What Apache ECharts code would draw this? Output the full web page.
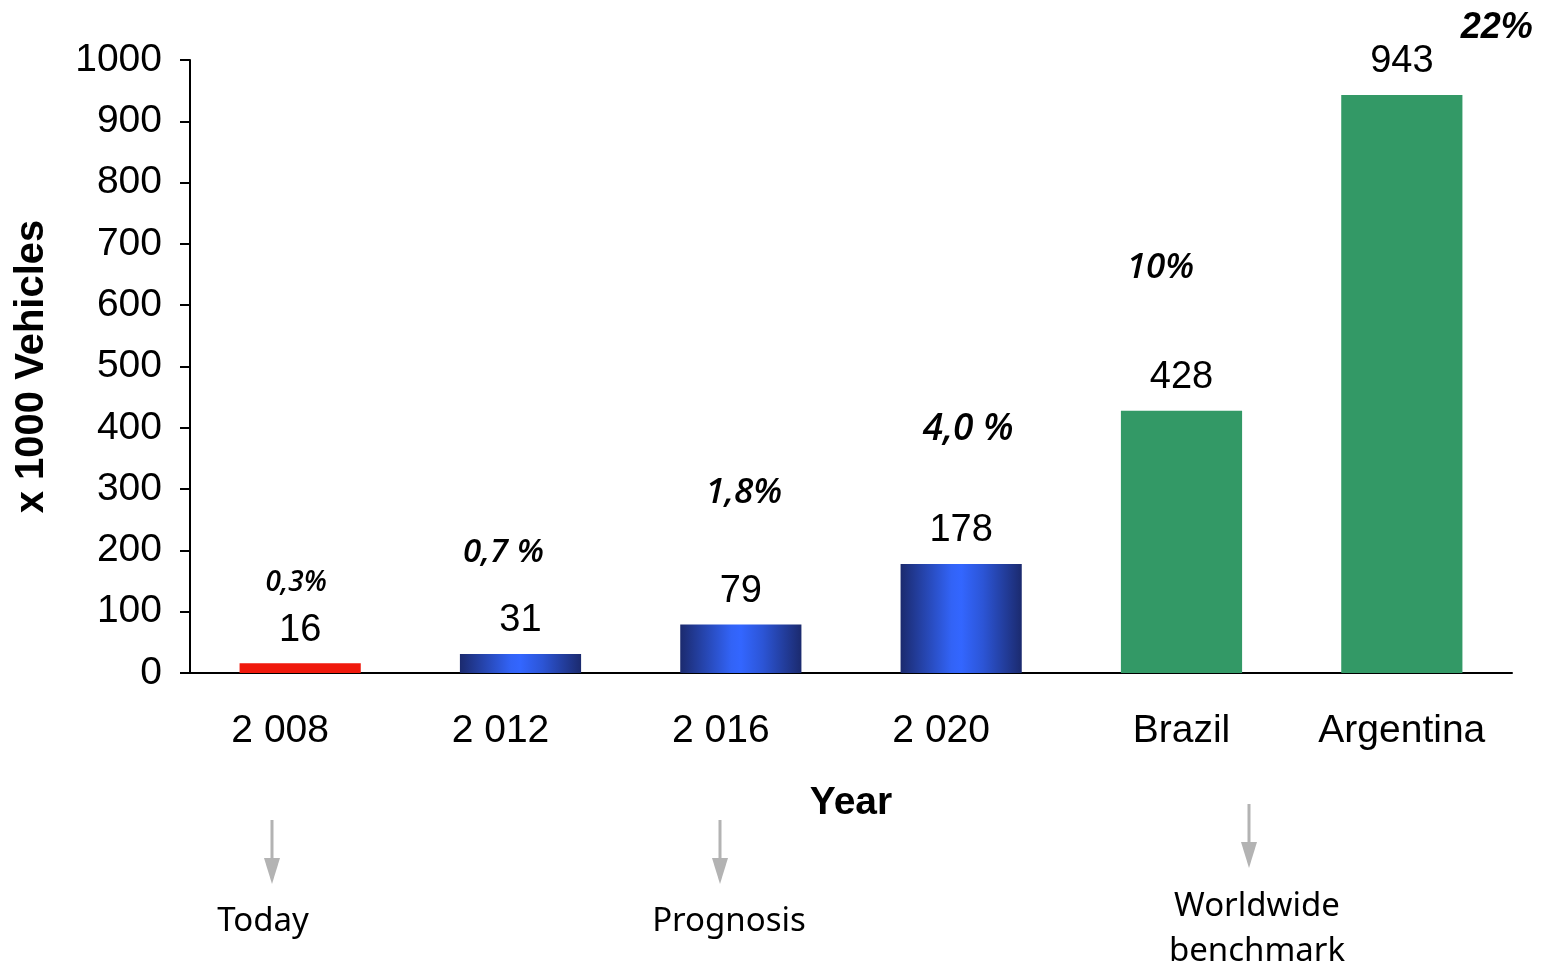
<!DOCTYPE html>
<html>
<head>
<meta charset="utf-8">
<script src="https://cdn.jsdelivr.net/npm/echarts@6/dist/echarts.min.js"></script>
<style>
  html, body { margin: 0; padding: 0; background: #fff; }
  #chart { width: 1544px; height: 967px; }
</style>
</head>
<body>
<div id="chart"></div>
<script>
// values
const categories = ["2 008", "2 012", "2 016", "2 020", "Brazil", "Argentina"];
const vehicles = [16, 31, 79, 178, 428, 943];
const shares = ["0,3%", "0,7 %", "1,8%", "4,0 %", "10%", "22%"];
const notes = ["Today", "Prognosis", "Worldwide\nbenchmark"];

let myChart = echarts.init(document.getElementById("chart"));

const blue = new echarts.graphic.LinearGradient(0, 0, 1, 0, [
  { offset: 0, color: "#1b2a6e" },
  { offset: 0.42, color: "#3263f6" },
  { offset: 0.5, color: "#3366ff" },
  { offset: 0.68, color: "#2c55d6" },
  { offset: 1, color: "#1b2a6e" },
]);
function barColor(i) {
  if (i === 0) return "#f0190c";
  if (i >= 4) return "#339966";
  return blue;
}

const font = "Liberation Sans, Arial, sans-serif";

var options = {
  animation: false,
  grid: { left: 190, right: 32, top: 60, bottom: 294 },
  xAxis: {
    type: "category",
    data: categories.map((c, i) => ({
      value: c,
      // the year labels sit a bit left of their bars
      textStyle: i < 4 ? { padding: [0, 40, 0, 0] } : {},
    })),
    name: "Year",
    nameLocation: "middle",
    nameGap: 111,
    nameTextStyle: { fontFamily: font, fontWeight: "bold", fontSize: 39, color: "#000" },
    axisLine: { lineStyle: { color: "#000", width: 2 } },
    axisTick: { show: false },
    axisLabel: { fontFamily: font, fontSize: 39, color: "#000", margin: 39 },
  },
  yAxis: {
    type: "value",
    min: 0,
    max: 1000,
    interval: 100,
    name: "x 1000 Vehicles",
    nameLocation: "middle",
    nameGap: 138,
    nameRotate: 90,
    nameTextStyle: { fontFamily: font, fontWeight: "bold", fontSize: 40, color: "#000" },
    axisLine: { show: true, lineStyle: { color: "#000", width: 2 } },
    axisTick: { show: true, length: 10, lineStyle: { color: "#000", width: 2 } },
    axisLabel: {
      fontFamily: font,
      fontSize: 39,
      color: "#000",
      margin: 28,
      formatter: (v) => String(v),
    },
    splitLine: { show: false },
  },
  series: [
    {
      type: "bar",
      barWidth: "55%",
      data: vehicles.map((v, i) => ({ value: v, itemStyle: { color: barColor(i) } })),
      label: {
        show: true,
        position: "top",
        distance: 14,
        fontFamily: font,
        fontSize: 38,
        color: "#000",
      },
    },
  ],
};
myChart.setOption(options);

// share annotations placed relative to the top of each bar
const shareOffsets = [[-4, -80], [-17, -101], [3, -132], [7, -134], [-21, -143], [95, -67]];
const shareSizes = [28, 33, 35, 37, 35, 36];
const graphics = shares.map((s, i) => {
  const p = myChart.convertToPixel({ seriesIndex: 0 }, [i, vehicles[i]]);
  return {
    type: "text",
    x: p[0] + shareOffsets[i][0],
    y: p[1] + shareOffsets[i][1],
    style: {
      text: s,
      fontFamily: i === 5 ? font : "Open Sans, sans-serif",
      fontStyle: "italic",
      fontWeight: i === 5 ? "bold" : 600,
      fontSize: shareSizes[i],
      fill: "#000",
      align: "center",
      verticalAlign: "middle",
    },
  };
});

// arrows and notes under the axis
const arrowX = [272, 720, 1249];
const arrowTop = [820, 820, 804];
const noteY = [922, 922, 929];
notes.forEach((n, i) => {
  graphics.push({
    type: "line",
    shape: { x1: arrowX[i], y1: arrowTop[i], x2: arrowX[i], y2: arrowTop[i] + 42 },
    style: { stroke: "#b3b3b3", lineWidth: 3 },
  });
  graphics.push({
    type: "polygon",
    shape: {
      points: [
        [arrowX[i] - 8, arrowTop[i] + 38],
        [arrowX[i] + 8, arrowTop[i] + 38],
        [arrowX[i], arrowTop[i] + 64],
      ],
    },
    style: { fill: "#b3b3b3" },
  });
  graphics.push({
    type: "text",
    x: [263, 729, 1257][i],
    y: noteY[i],
    style: {
      text: n,
      fontFamily: "Noto Sans, sans-serif",
      fontSize: 33,
      lineHeight: 45,
      fill: "#000",
      align: "center",
      verticalAlign: "middle",
    },
  });
});
myChart.setOption({ graphic: graphics });
</script>
</body>
</html>
